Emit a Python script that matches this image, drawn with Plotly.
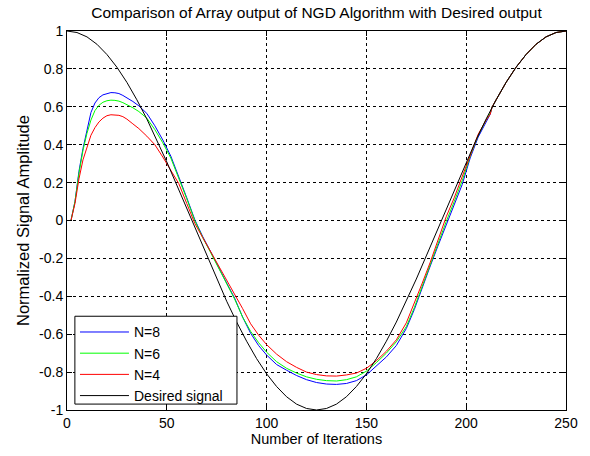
import plotly.graph_objects as go

# ---------------- data ----------------
iter_desired = [0, 5, 10, 15, 20, 25, 30, 35, 40, 45, 50, 55, 60, 65, 70, 75, 80, 85, 90, 95,
                100, 105, 110, 115, 120, 125, 130, 135, 140, 145, 150, 155, 160, 165, 170,
                175, 180, 185, 190, 195, 200, 205, 210, 215, 220, 225, 230, 235, 240, 245, 250]
desired = [1.000, 0.992, 0.969, 0.930, 0.876, 0.809, 0.729, 0.637, 0.536, 0.426, 0.309, 0.187,
           0.063, -0.063, -0.187, -0.309, -0.426, -0.536, -0.637, -0.729, -0.809, -0.876,
           -0.930, -0.969, -0.992, -1.000, -0.992, -0.969, -0.930, -0.876, -0.809, -0.729,
           -0.637, -0.536, -0.426, -0.309, -0.187, -0.063, 0.063, 0.187, 0.309, 0.426, 0.536,
           0.637, 0.729, 0.809, 0.876, 0.930, 0.969, 0.992, 1.000]

iter_array = [0, 2, 4, 6, 8, 10, 12, 14, 16, 18, 20, 22, 24, 26, 28, 30, 33, 36, 40, 44, 48,
              52, 56, 60, 64, 68, 72, 76, 80, 84, 88, 92, 96, 100, 105, 110, 115, 120, 125,
              130, 135, 140, 145, 150, 155, 160, 165, 170, 174, 178, 182, 186, 190, 194, 198,
              202, 206, 210, 212,
              213, 215, 220, 225, 230, 235, 240, 245, 250]

n8 = [0.0, 0.0, 0.10, 0.26, 0.38, 0.48, 0.57, 0.62, 0.648, 0.663, 0.671, 0.675, 0.674, 0.670,
      0.660, 0.648, 0.628, 0.605, 0.565, 0.50, 0.425, 0.34, 0.235, 0.12, 0.005, -0.085, -0.165,
      -0.25, -0.33, -0.41, -0.51, -0.595, -0.66, -0.71, -0.76, -0.79, -0.818, -0.84, -0.855,
      -0.863, -0.865, -0.86, -0.845, -0.815, -0.77, -0.72, -0.66, -0.57, -0.47, -0.35, -0.24,
      -0.13, -0.02, 0.09, 0.19, 0.33, 0.44, 0.52, 0.56,
      0.60, 0.637, 0.729, 0.809, 0.876, 0.930, 0.969, 0.992, 1.000]

n6 = [0.0, 0.0, 0.10, 0.25, 0.37, 0.46, 0.53, 0.58, 0.608, 0.624, 0.632, 0.635, 0.634, 0.630,
      0.622, 0.612, 0.595, 0.575, 0.54, 0.48, 0.41, 0.33, 0.225, 0.115, 0.0, -0.09, -0.17,
      -0.25, -0.33, -0.415, -0.51, -0.585, -0.645, -0.695, -0.745, -0.78, -0.805, -0.825,
      -0.838, -0.845, -0.847, -0.84, -0.825, -0.795, -0.75, -0.70, -0.64, -0.56, -0.46, -0.345,
      -0.235, -0.12, -0.005, 0.10, 0.21, 0.34, 0.45, 0.53, 0.565,
      0.60, 0.637, 0.729, 0.809, 0.876, 0.930, 0.969, 0.992, 1.000]

n4 = [0.0, 0.0, 0.09, 0.22, 0.32, 0.39, 0.45, 0.49, 0.52, 0.54, 0.553, 0.558, 0.558, 0.555,
      0.548, 0.535, 0.51, 0.485, 0.445, 0.40, 0.335, 0.265, 0.195, 0.09, -0.015, -0.09, -0.165,
      -0.24, -0.31, -0.385, -0.465, -0.545, -0.605, -0.655, -0.705, -0.745, -0.775, -0.80,
      -0.813, -0.82, -0.821, -0.815, -0.805, -0.78, -0.74, -0.69, -0.63, -0.54, -0.44, -0.33,
      -0.22, -0.10, 0.02, 0.12, 0.23, 0.35, 0.455, 0.53, 0.56,
      0.60, 0.637, 0.729, 0.809, 0.876, 0.930, 0.969, 0.992, 1.000]

x_ticks = [0, 50, 100, 150, 200, 250]
y_ticks = [-1, -0.8, -0.6, -0.4, -0.2, 0, 0.2, 0.4, 0.6, 0.8, 1]
y_tick_text = ["-1", "-0.8", "-0.6", "-0.4", "-0.2", "0", "0.2", "0.4", "0.6", "0.8", "1"]

FONT = "Liberation Sans, Arial, Helvetica, sans-serif"

fig = go.Figure()
fig.add_trace(go.Scatter(x=iter_array, y=n8, mode="lines", name="N=8",
                         line=dict(color="#0000FF", width=1)))
fig.add_trace(go.Scatter(x=iter_array, y=n6, mode="lines", name="N=6",
                         line=dict(color="#00FF00", width=1)))
fig.add_trace(go.Scatter(x=iter_array, y=n4, mode="lines", name="N=4",
                         line=dict(color="#FF0000", width=1)))
fig.add_trace(go.Scatter(x=iter_desired, y=desired, mode="lines", name="Desired signal",
                         line=dict(color="#000000", width=1)))

axis_common = dict(
    showline=True, linecolor="black", linewidth=1, mirror="ticks",
    ticks="inside", ticklen=5, tickcolor="black",
    showgrid=True, gridcolor="black", gridwidth=1, griddash="dot",
    zeroline=False, tickfont=dict(family=FONT, size=14, color="black"),
)

fig.update_xaxes(range=[0, 250], tickvals=x_ticks,
                 title=dict(text="Number of Iterations", font=dict(family=FONT, size=14.5, color="black"),
                            standoff=3),
                 **axis_common)
fig.update_yaxes(range=[-1, 1], tickvals=y_ticks, ticktext=y_tick_text,
                 title=dict(text="Normalized Signal Amplitude", font=dict(family=FONT, size=16.5, color="black"),
                            standoff=5),
                 **axis_common)

# opaque legend box (MATLAB style), drawn as a layout shape
fig.add_shape(type="rect", xref="paper", yref="paper",
              x0=0.0158, x1=0.3406, y0=0.0156, y1=0.2474,
              fillcolor="white", line=dict(color="black", width=1), layer="above")

fig.update_layout(
    width=590, height=456,
    margin=dict(l=67, r=18, t=31, b=41),
    paper_bgcolor="white", plot_bgcolor="white",
    title=dict(text="Comparison of Array output of NGD Algorithm with Desired output",
               xref="paper", x=0.5, xanchor="center", y=0.972, yanchor="middle",
               font=dict(family=FONT, size=15.5, color="black")),
    legend=dict(x=0.016, y=0.247, xanchor="left", yanchor="top",
                bgcolor="rgba(0,0,0,0)", borderwidth=0,
                font=dict(family=FONT, size=14, color="black"),
                tracegroupgap=0, itemwidth=49),
    showlegend=True,
)

fig.write_html("out.html")
